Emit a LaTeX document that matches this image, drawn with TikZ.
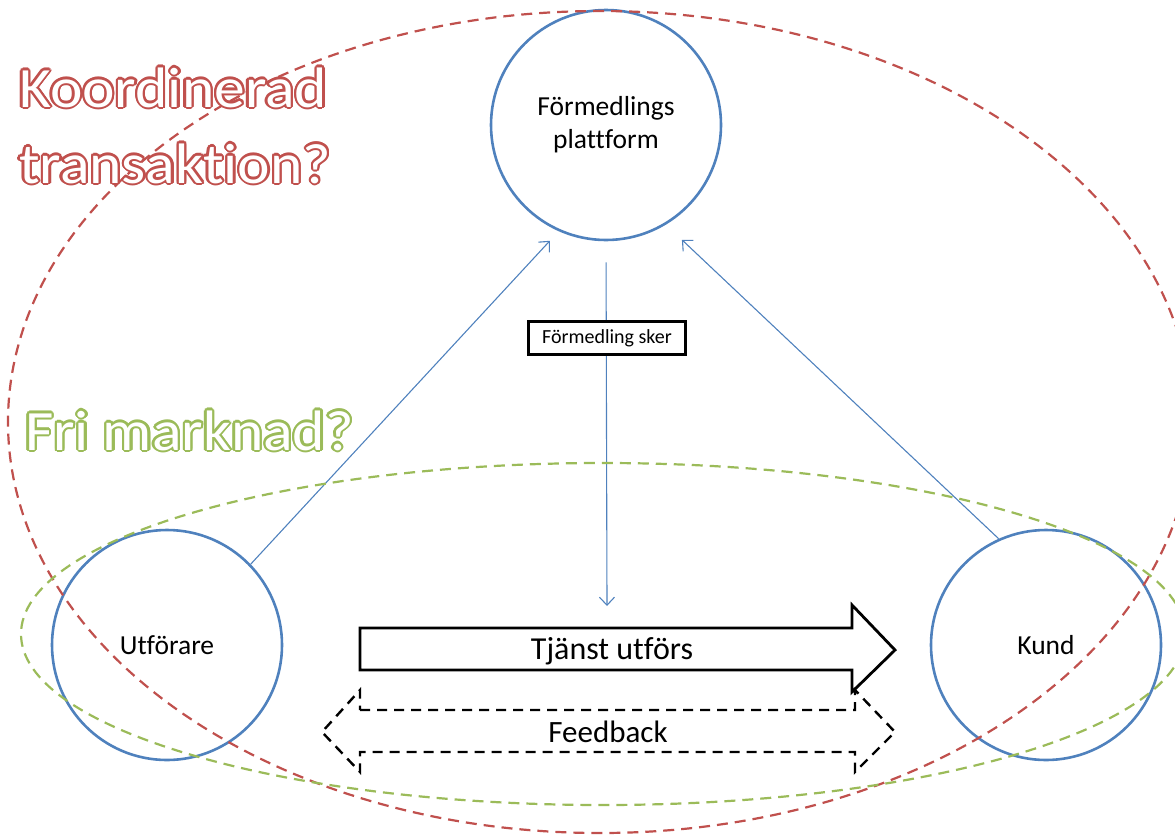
\documentclass[tikz,border=0pt]{standalone}
\usepackage{fontspec}
\setmainfont{Carlito}[Ligatures=NoCommon]
\usepackage{contour}
\usetikzlibrary{arrows.meta}

\definecolor{hubblue}{RGB}{79,129,189}
\definecolor{ringred}{RGB}{192,80,77}
\definecolor{ringgreen}{RGB}{155,187,89}

\tikzset{
  hub/.style={circle, draw=hubblue, line width=2.6pt, minimum size=230pt, inner sep=0pt, align=center, font=\fontsize{27.5}{33}\selectfont},
  link/.style={draw=hubblue, line width=1.1pt, -{Straight Barb[length=8pt,width=15pt,line width=1.1pt]}},
  ring/.style={dash pattern=on 11pt off 7pt, line width=2.2pt},
  wordart/.style={anchor=base west, inner sep=0pt, font=\fontsize{57}{68}\selectfont},
}
\contourlength{2.1pt}
\newcommand{\artword}[2]{\scalebox{1.08}[1]{\contour[16]{#1}{\textcolor{white}{#2}}}}

\begin{document}
\begin{tikzpicture}[x=1pt,y=-1pt]
\useasboundingbox (0,0) rectangle (1175,836);

% cirklarna
\node[hub] (plat) at (606,125) {\raisebox{-4pt}{\begin{tabular}{c}Förmedlings\\plattform\end{tabular}}};
\node[hub] (utf) at (167,645) {Utförare};
\node[hub] (kund) at (1046,645) {Kund};

% pilar till plattformen
\draw[link, shorten >=13pt] (utf.44) -- (plat.246);
\draw[link, shorten >=22pt] (kund.114) -- (plat.301);

% förmedling
\coordinate (done) at (607,606);
\draw[link, shorten <=21pt] (plat.south) -- (done);
\node[draw=black, fill=white, line width=2.4pt, minimum width=157pt, minimum height=33pt, inner sep=0pt, font=\fontsize{20}{24}\selectfont] (sker) at (607,338) {Förmedling sker};

% tjänst och feedback
\draw[line width=2.8pt, fill=white, line join=miter] (360,628) -- (852,628) -- (852,605) -- (895,650) -- (852,692) -- (852,670) -- (360,670) -- cycle;
\node[font=\fontsize{32}{38}\selectfont] (tjanst) at (612,651) {Tjänst utförs};
\draw[line width=2.4pt, dash pattern=on 10pt off 7pt] (360,710) -- (855,710) -- (855,690) -- (895,732) -- (855,772) -- (855,752) -- (360,752) -- (360,772) -- (322,732) -- (360,690) -- cycle;
\node[font=\fontsize{31}{37}\selectfont] (feed) at (608,732) {Feedback};

% ellipserna
\draw[ring, draw=ringred] (600,422) ellipse [x radius=592, y radius=411];
\draw[ring, draw=ringgreen] (603,634) ellipse [x radius=582, y radius=171];

% rubriker
\node[wordart] (koord) at (19,107) {\artword{ringred}{Koordinerad}};
\node[wordart] (trans) at (19,183) {\artword{ringred}{transaktion?}};
\node[wordart] (fri) at (25,450) {\artword{ringgreen}{Fri marknad?}};

\end{tikzpicture}
\end{document}
